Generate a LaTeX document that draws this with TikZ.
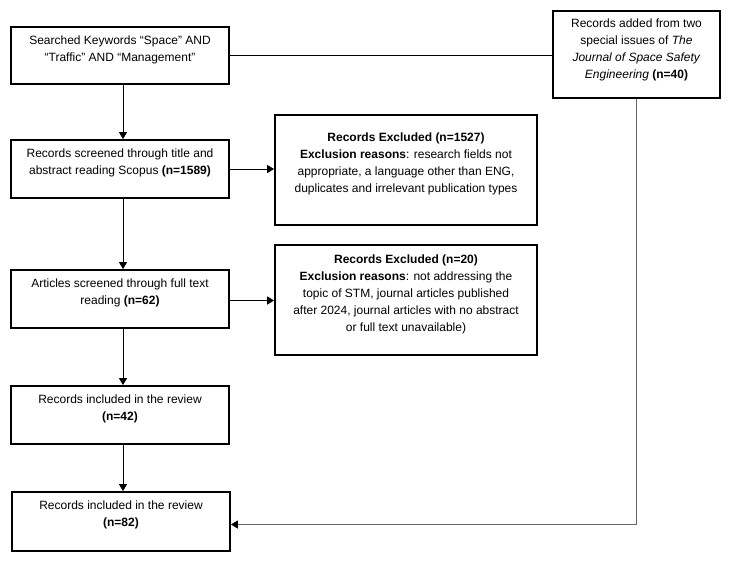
\documentclass[tikz,border=0pt]{standalone}
\usepackage{fontspec}
\setmainfont{Liberation Sans}
\usetikzlibrary{arrows.meta}
\tikzset{
  box/.style={draw=black, line width=1.8pt, fill=white, inner sep=0pt},
  txt/.style={anchor=north, align=center, inner sep=0pt, font=\fontsize{12}{17}\selectfont},
  conn/.style={draw=black, line width=1pt},
  arr/.style={conn, -{Triangle[length=7pt,width=8pt]}},
  grayarr/.style={draw=black!60, line width=1pt, -{Triangle[length=7pt,width=8pt,color=black]}}
}
\begin{document}
\begin{tikzpicture}[x=1pt,y=-1pt]
\useasboundingbox[fill=white] (0,0) rectangle (735,565);
% boxes
\node[box, minimum width=218pt, minimum height=57pt] (b1) at (120,55.5) {};
\node[box, minimum width=218pt, minimum height=58pt] (b2) at (120,169) {};
\node[box, minimum width=218pt, minimum height=58pt] (b3) at (120,299) {};
\node[box, minimum width=218pt, minimum height=58pt] (b4) at (120,415) {};
\node[box, minimum width=218pt, minimum height=59pt] (b5) at (121,521.5) {};
\node[box, minimum width=167pt, minimum height=87pt] (R) at (636.5,54.5) {};
\node[box, minimum width=262pt, minimum height=110pt] (E1) at (406,170) {};
\node[box, minimum width=262pt, minimum height=110pt] (E2) at (406,300) {};
% texts
\node[txt] (t1) at ([yshift=-9.6pt]b1.north) {Searched Keywords “Space” AND\\“Traffic” AND “Management”};
\node[txt] (t2) at ([yshift=-9.6pt]b2.north) {Records screened through title and\\abstract reading Scopus \textbf{(n=1589)}};
\node[txt] (t3) at ([yshift=-9.6pt]b3.north) {Articles screened through full text\\reading \textbf{(n=62)}};
\node[txt] (t4) at ([yshift=-9.6pt]b4.north) {Records included in the review\\\textbf{(n=42)}};
\node[txt] (t5) at ([yshift=-9.6pt]b5.north) {Records included in the review\\\textbf{(n=82)}};
\node[txt] (tR) at ([yshift=-8.6pt]R.north) {Records added from two\\special issues of \textit{The}\\\textit{Journal of Space Safety}\\\textit{Engineering} \textbf{(n=40)}};
\node[txt] (tE1) at ([yshift=-18.6pt]E1.north) {\textbf{Records Excluded (n=1527)}\\\textbf{Exclusion reasons}: research fields not\\appropriate, a language other than ENG,\\duplicates and irrelevant publication types};
\node[txt] (tE2) at ([yshift=-10.6pt]E2.north) {\textbf{Records Excluded (n=20)}\\\textbf{Exclusion reasons}: not addressing the\\topic of STM, journal articles published\\after 2024, journal articles with no abstract\\or full text unavailable)};
% connectors
\coordinate (g) at ([yshift=-3pt]b5.east);
\draw[conn] (b1.east) -- (b1.east -| R.west);
\draw[arr] ([xshift=3pt]b1.south) -- ([xshift=3pt]b2.north);
\draw[arr] ([xshift=3pt]b2.south) -- ([xshift=3pt]b3.north);
\draw[arr] ([xshift=3pt]b3.south) -- ([xshift=3pt]b4.north);
\draw[arr] ([xshift=3pt]b4.south) -- ([xshift=2pt]b5.north);
\draw[arr] (b2.east) -- (b2.east -| E1.west);
\draw[arr] ([yshift=-1.5pt]b3.east) -- ([yshift=-1.5pt]b3.east -| E2.west);
\draw[grayarr] (R.south) -- (R.south |- g) -- (g);
\end{tikzpicture}
\end{document}
